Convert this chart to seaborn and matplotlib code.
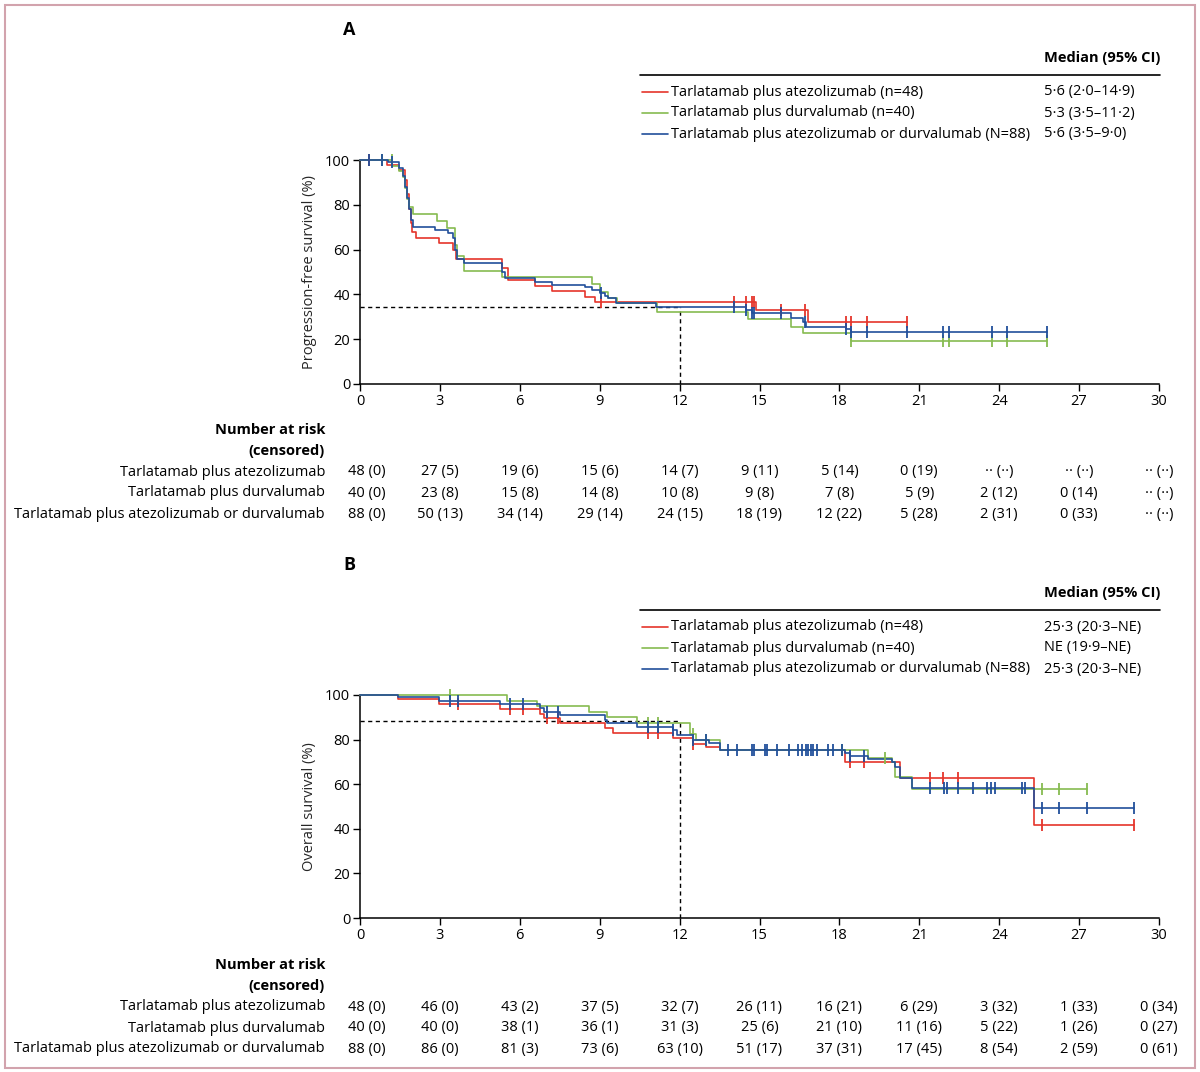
import matplotlib
matplotlib.use("Agg")
import matplotlib.pyplot as plt
import matplotlib.transforms as mtransforms
from matplotlib.lines import Line2D
from matplotlib.patches import Rectangle
import numpy as np
import pandas as pd
import seaborn as sns

W, H = 1200, 1072

groups = ["Tarlatamab plus atezolizumab",
          "Tarlatamab plus durvalumab",
          "Tarlatamab plus atezolizumab or durvalumab"]
group_n = ["(n=48)", "(n=40)", "(N=88)"]
colors = ["#e5352b", "#86bb50", "#214f9b"]

# ---- panel A: progression-free survival (months, %) ----
pfs_atezo_t = [0, 1.0, 1.45, 1.7, 1.78, 1.85, 1.9, 1.95, 2.1, 2.98, 3.5, 3.6, 5.34, 5.55, 6.57, 7.22, 8.45, 8.82, 14.87, 16.81]
pfs_atezo_s = [100, 97.9, 95.5, 91, 85, 78, 72, 68, 65, 62.8, 60, 56, 52, 46.4, 43.75, 41.5, 39, 36.5, 33, 27.5]
pfs_atezo_end = 20.53
pfs_atezo_cens = [0.35, 9.05, 14.04, 14.5, 14.7, 14.8, 15.8, 16.71, 18.24, 18.43, 19.03, 20.53]

pfs_durva_t = [0, 1.2, 1.45, 1.6, 1.7, 1.75, 1.85, 2.0, 2.88, 3.25, 3.57, 3.65, 3.9, 5.34, 8.7, 9.01, 9.33, 9.66, 11.17, 14.55, 16.17, 16.65, 18.43]
pfs_durva_s = [100, 97.5, 95, 92.5, 87.5, 82.5, 79, 76, 72.8, 69.5, 62, 57, 50.6, 47.6, 44.5, 41.2, 38.3, 36.3, 32, 29, 25.6, 22.6, 19.35]
pfs_durva_end = 25.81
pfs_durva_cens = [0.81, 1.19, 18.43, 21.9, 22.1, 23.74, 24.28, 25.81]

pfs_all_t = [0, 1.05, 1.45, 1.6, 1.7, 1.78, 1.85, 1.92, 2.0, 2.82, 3.3, 3.5, 3.57, 3.65, 3.9, 5.34, 5.45, 6.57, 7.22, 8.45, 8.7, 9.01, 9.2, 9.33, 9.6, 11.1, 14.5, 14.7, 16.17, 16.65, 16.75, 18.24, 18.43]
pfs_all_s = [100, 98.9, 96.6, 93, 88, 83, 78, 73, 70.2, 68.75, 67.3, 65, 60, 56, 53.9, 50, 47.5, 45.4, 44.2, 43.2, 42, 40.5, 39.5, 38.3, 36.3, 34.5, 33, 31.6, 29.3, 27.5, 25.6, 24.5, 23.1]
pfs_all_end = 25.81
pfs_all_cens = [0.35, 0.81, 1.19, 9.05, 14.04, 14.5, 14.7, 14.8, 15.8, 16.71, 18.24, 18.43, 19.03, 20.53, 21.9, 22.1, 23.74, 24.28, 25.81]

pfs_medians = ["5·6 (2·0–14·9)", "5·3 (3·5–11·2)", "5·6 (3·5–9·0)"]
pfs_landmark = 34.5

# ---- panel B: overall survival ----
os_atezo_t = [0, 1.44, 2.98, 5.26, 6.76, 6.9, 7.51, 9.2, 9.51, 11.77, 12.5, 13.0, 13.52, 18.21, 20.28, 25.32]
os_atezo_s = [100, 98, 95.8, 93.7, 91.6, 89.5, 87.4, 85.2, 83.1, 80.5, 78, 76.5, 75.3, 70.1, 62.9, 41.7]
os_atezo_end = 29.07
os_atezo_cens = [3.69, 5.63, 6.11, 7.03, 7.45, 10.83, 11.2, 12.5, 18.4, 18.93, 21.4, 21.9, 22.47, 25.6, 29.07]

os_durva_t = [0, 5.51, 6.66, 8.58, 9.26, 10.39, 12.39, 12.6, 13.52, 19.09, 19.96, 20.1, 20.71]
os_durva_s = [100, 97.5, 95, 92.5, 90, 87.5, 82.5, 80, 75.5, 71.9, 70, 63.4, 57.8]
os_durva_end = 27.28
os_durva_cens = [3.38, 10.83, 11.2, 12.5, 13.0, 18.1, 19.7, 25.6, 26.26, 27.28]

os_all_t = [0, 1.44, 2.98, 5.26, 6.76, 6.9, 7.51, 9.2, 9.26, 10.39, 11.77, 11.9, 12.5, 13.1, 13.52, 18.21, 18.4, 19.09, 19.96, 20.1, 20.28, 20.71, 25.32]
os_all_s = [100, 99.2, 97.4, 96, 94, 92.5, 91, 88.8, 87.6, 85.8, 84.3, 82, 79.8, 78.3, 75.3, 73.9, 72.7, 71.2, 70.1, 67.5, 62.6, 58.2, 49.2]
os_all_end = 29.07
os_all_cens = [3.38, 3.69, 5.63, 6.11, 7.03, 7.45, 10.83, 11.2, 11.77, 12.5, 13.0, 13.82, 14.14, 14.7, 14.79, 15.21, 15.27,
               15.67, 16.12, 16.46, 16.59, 16.75, 16.83, 16.92, 17.02, 17.15, 17.59, 17.77, 18.09, 18.4, 18.93,
               21.4, 21.92, 22.05, 22.47, 23.03, 23.53, 23.68, 23.84, 24.85, 24.97, 25.6, 26.26, 27.28, 29.07]

os_medians = ["25·3 (20·3–NE)", "NE (19·9–NE)", "25·3 (20·3–NE)"]
os_landmark = 88.5

# ---- numbers at risk (censored) ----
risk_times = [0, 3, 6, 9, 12, 15, 18, 21, 24, 27, 30]
pfs_risk = [
    ["48 (0)", "27 (5)", "19 (6)", "15 (6)", "14 (7)", "9 (11)", "5 (14)", "0 (19)", "·· (··)", "·· (··)", "·· (··)"],
    ["40 (0)", "23 (8)", "15 (8)", "14 (8)", "10 (8)", "9 (8)", "7 (8)", "5 (9)", "2 (12)", "0 (14)", "·· (··)"],
    ["88 (0)", "50 (13)", "34 (14)", "29 (14)", "24 (15)", "18 (19)", "12 (22)", "5 (28)", "2 (31)", "0 (33)", "·· (··)"],
]
os_risk = [
    ["48 (0)", "46 (0)", "43 (2)", "37 (5)", "32 (7)", "26 (11)", "16 (21)", "6 (29)", "3 (32)", "1 (33)", "0 (34)"],
    ["40 (0)", "40 (0)", "38 (1)", "36 (1)", "31 (3)", "25 (6)", "21 (10)", "11 (16)", "5 (22)", "1 (26)", "0 (27)"],
    ["88 (0)", "86 (0)", "81 (3)", "73 (6)", "63 (10)", "51 (17)", "37 (31)", "17 (45)", "8 (54)", "2 (59)", "0 (61)"],
]

sns.set_style("ticks")
plt.rcParams['font.family'] = ['Open Sans', 'DejaVu Sans']
plt.rcParams['font.size'] = 10.5
plt.rcParams['text.color'] = 'black'
plt.rcParams['xtick.color'] = 'black'
plt.rcParams['ytick.color'] = 'black'
plt.rcParams['axes.edgecolor'] = 'black'

fig = plt.figure(figsize=(W / 100, H / 100), dpi=100)


def fx(x):
    return x / W


def fy(y):
    return 1 - y / H


def curve_df(series):
    rows = []
    for g, (t, s, end) in zip(groups, series):
        tt = list(t) + [end]
        ss = list(s) + [s[-1]]
        for a, b in zip(tt, ss):
            rows.append({"time": a, "surv": b, "group": g})
    return pd.DataFrame(rows)


def surv_at(t, s, c):
    idx = np.searchsorted(np.array(t), np.array(c), side="right") - 1
    return np.array(s)[idx]


def panel(top_px, bot_px, series, cens, ylabel, medians, landmark, risk, letter, head_y, risk_y):
    ax = fig.add_axes([fx(360), fy(bot_px), fx(1159) - fx(360), fy(top_px) - fy(bot_px)])
    df = curve_df(series)
    sns.lineplot(data=df, x="time", y="surv", hue="group", palette=colors, hue_order=groups,
                 drawstyle="steps-post", estimator=None, sort=False, lw=1.2, legend=False,
                 ax=ax, clip_on=False, zorder=3)
    for (t, s, end), c, col in zip(series, cens, colors):
        ax.plot(c, surv_at(t, s, c), ls="none", marker="|", ms=9, mew=1.3, color=col,
                clip_on=False, zorder=4)
    ax.plot([0, 12], [landmark, landmark], color="black", ls=(0, (3, 2.5)), lw=1.0, zorder=2)
    ax.plot([12, 12], [0, landmark], color="black", ls=(0, (3, 2.5)), lw=1.0, zorder=2)
    ax.set_xlim(0, 30)
    ax.set_ylim(0, 100)
    ax.set_xticks(risk_times)
    ax.set_yticks(range(0, 101, 20))
    ax.tick_params(length=5, width=1, labelsize=10.5, pad=2)
    for sp in ["left", "bottom"]:
        ax.spines[sp].set_linewidth(1.1)
    sns.despine(ax=ax)
    ax.set_xlabel("")
    ax.set_ylabel(ylabel, fontsize=10.5, labelpad=6)

    # panel letter
    fig.text(fx(343), fy(head_y[0]), letter, fontsize=13, fontweight="bold", ha="left", va="center")
    # legend block
    fig.text(fx(1160), fy(head_y[1]), "Median (95% CI)", fontsize=10.5, fontweight="bold",
             ha="right", va="center")
    fig.add_artist(Line2D([fx(640), fx(1160)], [fy(head_y[1] + 17)] * 2, color="black", lw=1.2))
    for i, (g, n, m, col) in enumerate(zip(groups, group_n, medians, colors)):
        yy = fy(head_y[1] + 34 + 21 * i)
        fig.add_artist(Line2D([fx(642), fx(668)], [yy, yy], color=col, lw=1.2))
        fig.text(fx(671), yy, g + " " + n, ha="left", va="center", fontsize=10.5)
        fig.text(fx(1044), yy, m, ha="left", va="center", fontsize=10.5)

    # number at risk table
    tr = mtransforms.blended_transform_factory(ax.transData, fig.transFigure)
    fig.text(fx(325), fy(risk_y), "Number at risk", ha="right", va="center", fontweight="bold")
    fig.text(fx(325), fy(risk_y + 21), "(censored)", ha="right", va="center", fontweight="bold")
    for i, (g, row) in enumerate(zip(groups, risk)):
        yy = fy(risk_y + 42 + 21 * i)
        fig.text(fx(325), yy, g, ha="right", va="center")
        for t, v in zip(risk_times, row):
            if t == 0:
                ax.text(-0.45, yy, v, transform=tr, ha="left", va="center")
            else:
                ax.text(t, yy, v, transform=tr, ha="center", va="center")
    return ax


panel(160, 384,
      [(pfs_atezo_t, pfs_atezo_s, pfs_atezo_end), (pfs_durva_t, pfs_durva_s, pfs_durva_end),
       (pfs_all_t, pfs_all_s, pfs_all_end)],
      [pfs_atezo_cens, pfs_durva_cens, pfs_all_cens],
      "Progression-free survival (%)", pfs_medians, pfs_landmark, pfs_risk, "A", (30, 58), 430)

panel(695, 918,
      [(os_atezo_t, os_atezo_s, os_atezo_end), (os_durva_t, os_durva_s, os_durva_end),
       (os_all_t, os_all_s, os_all_end)],
      [os_atezo_cens, os_durva_cens, os_all_cens],
      "Overall survival (%)", os_medians, os_landmark, os_risk, "B", (565, 593), 965)

fig.patches.append(Rectangle((fx(5), fy(1068)), fx(1190), fy(5) - fy(1068), transform=fig.transFigure,
                             fill=False, edgecolor="#d2a3ad", lw=1.5))

fig.savefig("out.png", dpi=100)
